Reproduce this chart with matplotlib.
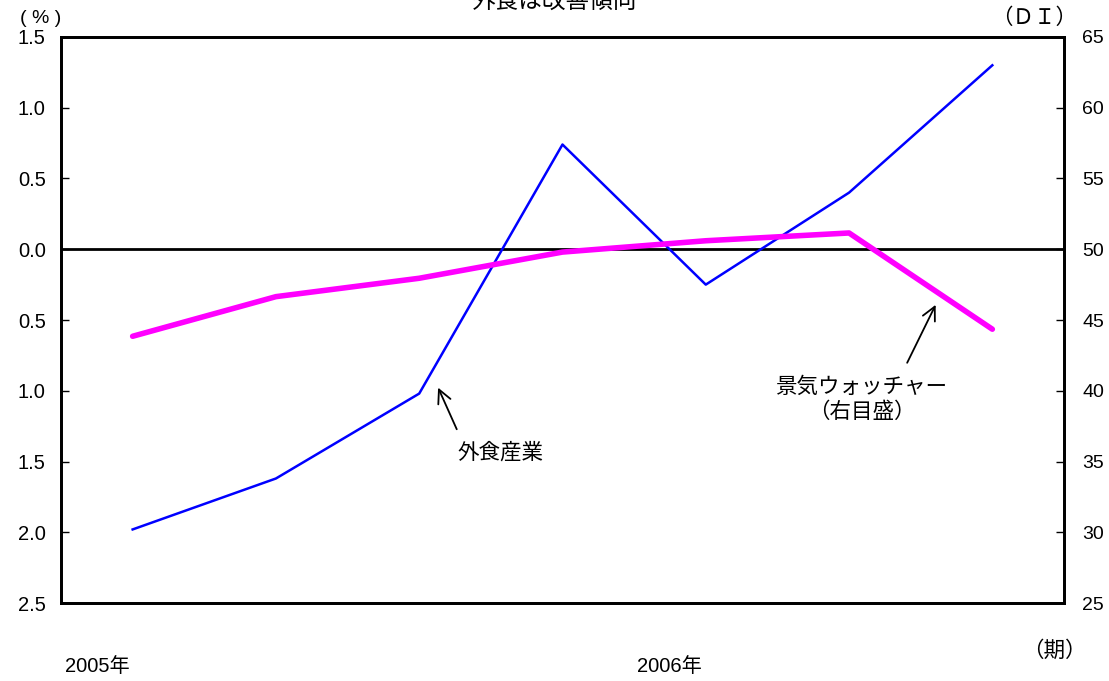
import matplotlib

matplotlib.use("Agg")

import matplotlib.pyplot as plt
import numpy as np

plt.rcParams["font.family"] = ["Liberation Sans", "Noto Sans CJK JP", "DejaVu Sans"]

# 外食産業（左目盛、%）と景気ウォッチャー（右目盛、DI）
periods = np.arange(7)
gaishoku = [-1.98, -1.62, -1.02, 0.74, -0.25, 0.40, 1.30]
watcher = [43.85, 46.65, 47.95, 49.8, 50.6, 51.15, 44.35]

left_ticks = [1.5, 1.0, 0.5, 0.0, -0.5, -1.0, -1.5, -2.0, -2.5]
left_labels = ["1.5", "1.0", "0.5", "0.0", "0.5", "1.0", "1.5", "2.0", "2.5"]
right_ticks = [25, 30, 35, 40, 45, 50, 55, 60, 65]
year_labels = ["2005年", "2006年"]

JP = ["Noto Sans CJK JP"]

fig = plt.figure(figsize=(11.09, 6.81), dpi=100)
ax = fig.add_axes([0.055, 0.1145, 0.9044, 0.8312])
ax2 = ax.twinx()

ax.plot(periods, gaishoku, color="#0000ff", lw=1.8, zorder=3)
ax.axhline(0, color="black", lw=2, zorder=2)
ax2.plot(periods, watcher, color="#ff00ff", lw=4, solid_capstyle="round", zorder=3)

ax.set_xlim(-0.5, 6.5)
ax.set_ylim(-2.5, 1.5)
ax2.set_ylim(25, 65)
ax.set_xticks([])
ax.set_yticks(left_ticks, left_labels)
ax2.set_yticks(right_ticks)

for a in (ax, ax2):
    for s in a.spines.values():
        s.set_linewidth(2)
    a.tick_params(axis="y", direction="in", length=6, width=1)
ax.tick_params(axis="y", pad=11, labelsize=14.5)
ax2.tick_params(axis="y", pad=13, labelsize=14)

arrow = dict(arrowstyle="->", color="black", lw=1.3, mutation_scale=24)
ax.annotate("", xy=(2.124, -0.96), xytext=(2.27, -1.29), arrowprops=arrow)
ax.text(2.564, -1.435, "外食産業", ha="center", va="center", fontsize=15.5, family=JP)
ax.annotate("", xy=(5.613, -0.375), xytext=(5.397, -0.82), arrowprops=arrow)
ax.text(5.083, -0.975, "景気ウォッチャー", ha="center", va="center", fontsize=15.5, family=JP)
ax.text(5.09, -1.152, "（右目盛）", ha="center", va="center", fontsize=15.5, family=JP)

fig.text(0.5, 0.998, "外食は改善傾向", ha="center", va="center", fontsize=17, family=JP)
fig.text(0.037, 0.973, "( % )", ha="center", va="center", fontsize=14)
fig.text(0.932, 0.973, "（ＤＩ）", ha="center", va="center", fontsize=15.5, family=JP)
fig.text(0.0875, 0.0206, year_labels[0], ha="center", va="center", fontsize=14.5)
fig.text(0.604, 0.0206, year_labels[1], ha="center", va="center", fontsize=14.5)
fig.text(0.951, 0.044, "（期）", ha="center", va="center", fontsize=15.5, family=JP)

fig.savefig("out.png", dpi=100)
